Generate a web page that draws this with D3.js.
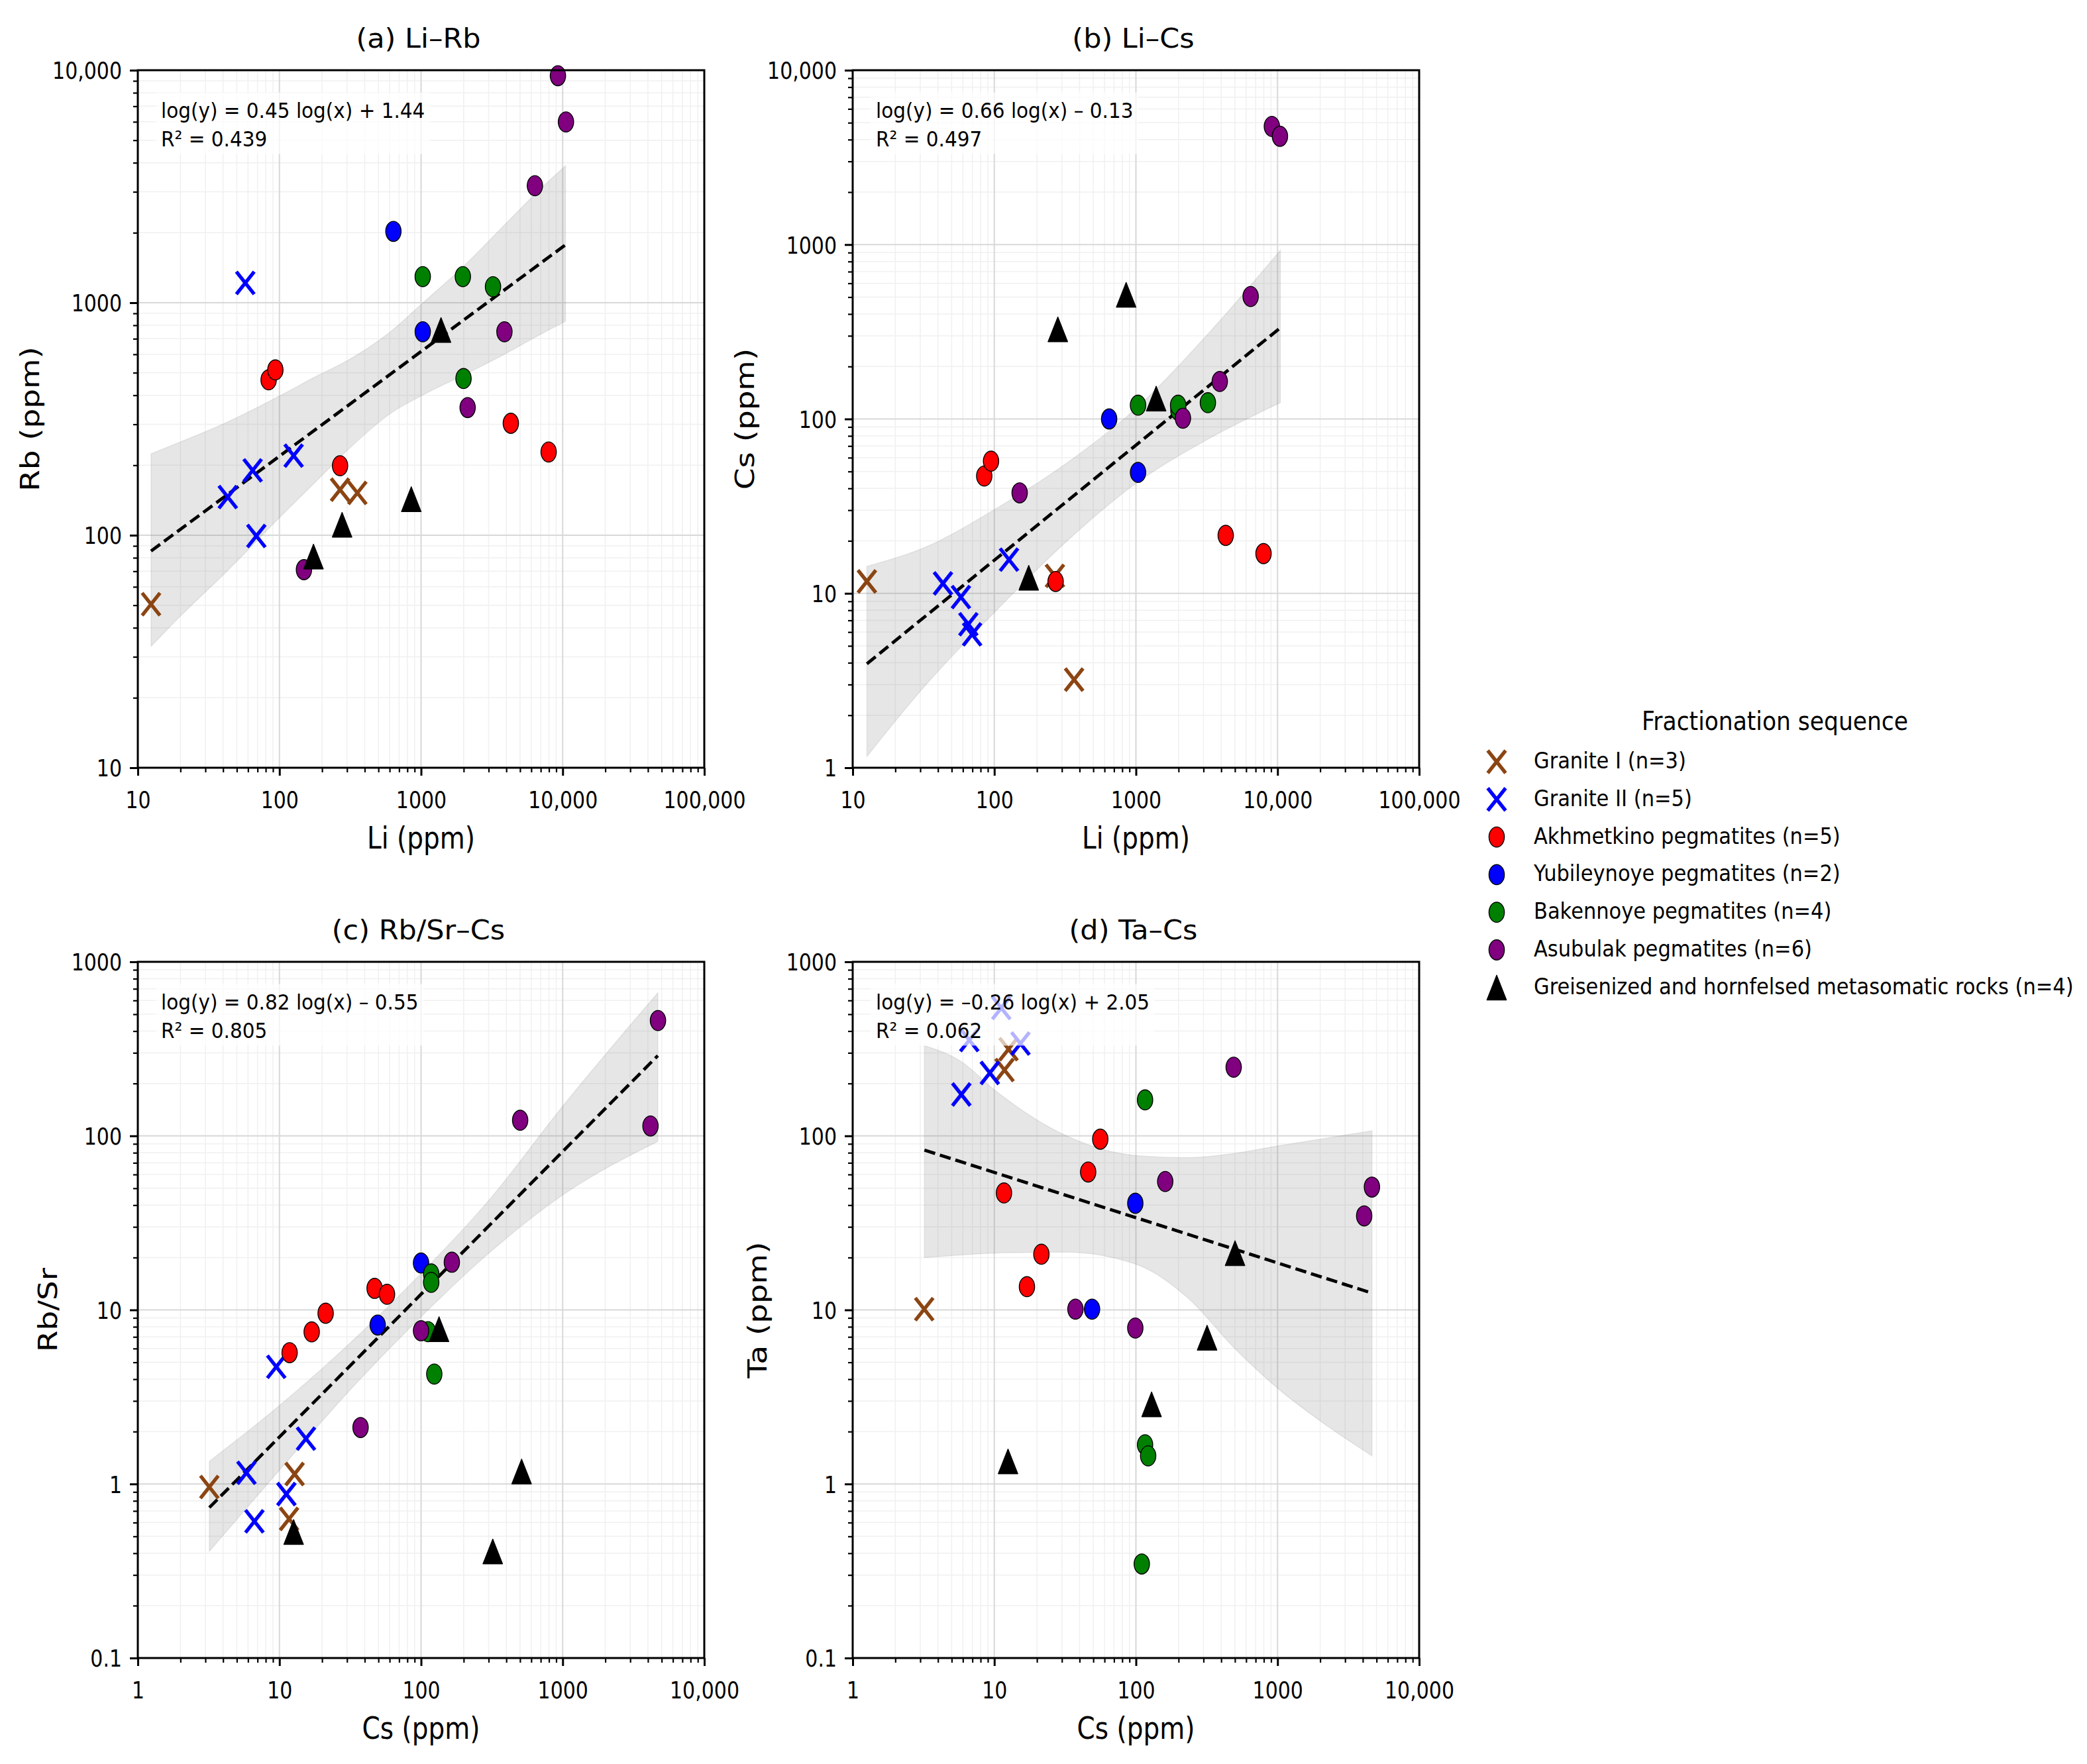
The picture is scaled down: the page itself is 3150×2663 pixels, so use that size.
<!DOCTYPE html>
<html><head><meta charset="utf-8">
<script src="https://cdn.jsdelivr.net/npm/d3@7"></script>
<style>
body{margin:0;background:#fff}
svg{display:block}
text{font-family:"DejaVu Sans",sans-serif;fill:#000}
</style>
</head><body>
<svg id="chart" width="3150" height="2663"></svg>
<script>
// ---------- groups ----------
const groupNames = ["Granite I (n=3)","Granite II (n=5)","Akhmetkino pegmatites (n=5)","Yubileynoye pegmatites (n=2)","Bakennoye pegmatites (n=4)","Asubulak pegmatites (n=6)","Greisenized and hornfelsed metasomatic rocks (n=4)"];
const groupColors = ["#8B4513","#0000FF","#FF0000","#0000FF","#008000","#800080","#000000"];
const groupShapes = ["x","x","o","o","o","o","^"];

// ---------- panel (a) Li vs Rb ----------
const A_granite1 = [[12.4,50.5],[268,157],[355,152]];
const A_granite2 = [[57.4,1217],[43.2,146],[64.7,190],[68.7,99.3],[126,220]];
const A_akhmet   = [[83.9,466],[93.6,514],[268,199],[4305,303],[7962,228]];
const A_yubil    = [[638,2027],[1028,750]];
const A_baken    = [[1028,1295],[1973,1295],[3222,1172],[1995,472]];
const A_asub     = [[9260,9470],[10550,5990],[6368,3186],[3880,750],[2133,354],[149,71.1]];
const A_greisen  = [[1384,764],[853,143],[277,111],[174,81]];
const A_bandX  = [12.4,20,41.1,100,186,302,622,1000,2089,3802,6982,10470];
const A_bandHi = [224,252,303,397,486,564,759,982,1472,2133,3090,3882];
const A_bandLo = [33.3,44.9,68.5,119,173,232,337,397,495,596,731,832];

// ---------- panel (b) Li vs Cs ----------
const B_granite1 = [[12.6,11.7],[268,12.6],[366,3.2]];
const B_granite2 = [[43.4,11.4],[58.1,9.52],[65.6,6.65],[69.7,5.82],[127,15.6]];
const B_akhmet   = [[84.9,47.1],[94.8,57.3],[271,11.7],[4305,21.5],[7962,16.9]];
const B_yubil    = [[647,100],[1035,49.4]];
const B_baken    = [[1035,120],[1995,112],[1986,120],[3222,124]];
const B_asub     = [[9120,4760],[10400,4180],[6457,504],[3908,164],[2148,101],[151,37.7]];
const B_greisen  = [[853,516],[281,327],[1390,131],[175,12.3]];
const B_bandX  = [12.6,31.6,100,316,1000,3162,10470];
const B_bandHi = [14.3,18.2,30.2,55,115,302,929];
const B_bandLo = [1.16,2.88,7.76,19.5,42.7,75.9,124];

// ---------- panel (c) Cs vs Rb/Sr ----------
const C_granite1 = [[3.2,0.96],[12.8,1.14],[11.7,0.63]];
const C_granite2 = [[5.85,1.16],[6.66,0.61],[9.5,4.71],[11.2,0.875],[15.4,1.82]];
const C_akhmet   = [[11.8,5.68],[16.9,7.48],[21.2,9.57],[47,13.3],[57.5,12.3]];
const C_yubil    = [[100,18.6],[49.4,8.19]];
const C_baken    = [[118,16.1],[118,14.4],[112,7.5],[124,4.28]];
const C_asub     = [[501,123],[4170,114],[4710,460],[165,18.8],[100,7.59],[37.4,2.11]];
const C_greisen  = [[134,7.76],[12.6,0.53],[321,0.41],[513,1.18]];
const C_bandX  = [3.2,10,31.6,100,316,1000,4700];
const C_bandHi = [1.35,2.82,6.46,16.2,44.7,148,664];
const C_bandLo = [0.41,1.2,3.47,9.12,21.9,45.7,92.9];

// ---------- panel (d) Cs vs Ta ----------
const D_granite1 = [[3.2,10.1],[11.8,239],[12.6,315]];
const D_granite2 = [[5.85,173],[9.3,230],[6.66,355],[11.2,543],[15.3,339]];
const D_akhmet   = [[11.7,47],[17,13.6],[21.5,20.9],[46,62],[56,95.7]];
const D_yubil    = [[99,41],[49,10.1]];
const D_baken    = [[116,161],[116,1.68],[122,1.45],[110,0.347]];
const D_asub     = [[490,248],[161,54.7],[4640,50.8],[4090,34.7],[37.4,10.1],[99,7.87]];
const D_greisen  = [[501,21.2],[318,6.93],[129,2.87],[12.5,1.35]];
const D_bandX  = [3.21,5.85,10,31.6,100,233,501,1000,2328,4645];
const D_bandHi = [330,267,184,101,77.1,75,79.4,87.5,97.7,107];
const D_bandLo = [20,20.7,21.2,21.5,18.3,11.7,5.98,3.55,2.11,1.45];

// ---------- fits ----------
const fitSlope = [0.45,0.66,0.82,-0.26];
const fitIntercept = [1.44,-0.13,-0.55,2.05];
const fitR2 = ["0.439","0.497","0.805","0.062"];

// ---------- titles / labels / ticks ----------
const panelTitles = ["(a) Li–Rb","(b) Li–Cs","(c) Rb/Sr–Cs","(d) Ta–Cs"];
const xLabels = ["Li (ppm)","Li (ppm)","Cs (ppm)","Cs (ppm)"];
const yLabels = ["Rb (ppm)","Cs (ppm)","Rb/Sr","Ta (ppm)"];
const xDomains = [[10,100000],[10,100000],[1,10000],[1,10000]];
const yDomains = [[10,10000],[1,10000],[0.1,1000],[0.1,1000]];
const legendTitle = "Fractionation sequence";

// ---------- layout ----------
const KY = 1.2;   // vertical stretch of the reference glyphs
const layout = [
  {left:208, right:1063, top:106, bottom:1159, ylx:59},
  {left:1287, right:2142, top:106, bottom:1159, ylx:1138},
  {left:208, right:1063, top:1452, bottom:2503, ylx:86},
  {left:1287, right:2142, top:1452, bottom:2503, ylx:1157}
];
const panelData = [
  [A_granite1,A_granite2,A_akhmet,A_yubil,A_baken,A_asub,A_greisen],
  [B_granite1,B_granite2,B_akhmet,B_yubil,B_baken,B_asub,B_greisen],
  [C_granite1,C_granite2,C_akhmet,C_yubil,C_baken,C_asub,C_greisen],
  [D_granite1,D_granite2,D_akhmet,D_yubil,D_baken,D_asub,D_greisen]
];
const panelBands = [
  [A_bandX,A_bandHi,A_bandLo],[B_bandX,B_bandHi,B_bandLo],
  [C_bandX,C_bandHi,C_bandLo],[D_bandX,D_bandHi,D_bandLo]
];

const svg = d3.select("#chart");

function txt(g, x, y, s, size, o = {}) {
  const sx = o.sx || 1, sy = o.sy || KY;
  return g.append("text")
    .attr("transform", `translate(${x},${y}) scale(${sx},${sy})` + (o.rot ? ` rotate(${o.rot})` : ""))
    .attr("font-size", size)
    .attr("text-anchor", o.anchor || "start")
    .text(s);
}

function fmtTick(v) {
  return v >= 10000 ? d3.format(",")(v) : String(v);
}
function majors(dom) {
  const out = [];
  for (let e = Math.round(Math.log10(dom[0])); e <= Math.round(Math.log10(dom[1])); e++) out.push(+Math.pow(10, e).toPrecision(6));
  return out;
}
function minors(dom) {
  const out = [];
  for (let e = Math.round(Math.log10(dom[0])); e < Math.round(Math.log10(dom[1])); e++)
    for (let k = 2; k <= 9; k++) out.push(+(k * Math.pow(10, e)).toPrecision(6));
  return out;
}

function drawMarker(g, pts, gi, x, y) {
  const shape = groupShapes[gi], color = groupColors[gi];
  const sel = g.selectAll(null).data(pts).enter();
  if (shape === "o") {
    sel.append("ellipse")
      .attr("cx", d => x(d[0])).attr("cy", d => y(d[1]))
      .attr("rx", 11.6).attr("ry", 15.2)
      .attr("fill", color).attr("stroke", "#000").attr("stroke-width", 1.4);
  } else if (shape === "x") {
    sel.append("path")
      .attr("transform", d => `translate(${x(d[0])},${y(d[1])})`)
      .attr("d", "M-13.5,-17L13.5,17M-13.5,17L13.5,-17")
      .attr("fill", "none").attr("stroke", color).attr("stroke-width", 5.4);
  } else {
    sel.append("path")
      .attr("transform", d => `translate(${x(d[0])},${y(d[1])})`)
      .attr("d", "M0,-19L15,19L-15,19Z")
      .attr("fill", color).attr("stroke", "#000").attr("stroke-width", 1);
  }
}

panelTitles.forEach((title, p) => {
  const L = layout[p];
  const x = d3.scaleLog().domain(xDomains[p]).range([L.left, L.right]);
  const y = d3.scaleLog().domain(yDomains[p]).range([L.bottom, L.top]);
  const g = svg.append("g");
  const cx = (L.left + L.right) / 2, cy = (L.top + L.bottom) / 2;

  // minor grid
  const gg = g.append("g");
  gg.selectAll(null).data(minors(xDomains[p])).enter().append("line")
    .attr("x1", d => x(d)).attr("x2", d => x(d)).attr("y1", L.top).attr("y2", L.bottom)
    .attr("stroke", "#f0f0f0").attr("stroke-width", 1.5);
  gg.selectAll(null).data(minors(yDomains[p])).enter().append("line")
    .attr("y1", d => y(d)).attr("y2", d => y(d)).attr("x1", L.left).attr("x2", L.right)
    .attr("stroke", "#f0f0f0").attr("stroke-width", 1.5);
  // major grid
  gg.selectAll(null).data(majors(xDomains[p])).enter().append("line")
    .attr("x1", d => x(d)).attr("x2", d => x(d)).attr("y1", L.top).attr("y2", L.bottom)
    .attr("stroke", "#d8d8d8").attr("stroke-width", 2);
  gg.selectAll(null).data(majors(yDomains[p])).enter().append("line")
    .attr("y1", d => y(d)).attr("y2", d => y(d)).attr("x1", L.left).attr("x2", L.right)
    .attr("stroke", "#d8d8d8").attr("stroke-width", 2);

  // confidence band
  const [bx, bhi, blo] = panelBands[p];
  const bandPts = bx.map((v, i) => [v, bhi[i], blo[i]]);
  g.append("path").datum(bandPts)
    .attr("d", d3.area().x(d => x(d[0])).y0(d => y(d[2])).y1(d => y(d[1])).curve(d3.curveMonotoneX))
    .attr("fill", "#808080").attr("fill-opacity", 0.2)
    .attr("stroke", "#808080").attr("stroke-opacity", 0.15).attr("stroke-width", 1.5);

  // regression line
  const m = fitSlope[p], b = fitIntercept[p];
  const lineX = [bx[0], bx[bx.length - 1]];
  g.append("path").datum(lineX)
    .attr("d", d3.line().x(d => x(d)).y(d => y(Math.pow(10, m * Math.log10(d) + b))))
    .attr("fill", "none").attr("stroke", "#000").attr("stroke-width", 4.8)
    .attr("stroke-dasharray", "17,7.5");

  // points
  panelData[p].forEach((pts, gi) => drawMarker(g, pts, gi, x, y));

  // equation box
  const ex = L.left + 35, e1 = L.top + 71.6, e2 = L.top + 114.5;
  const box = g.append("rect").attr("fill", "#fff").attr("fill-opacity", 0.7);
  const eqStr = `log(y) = ${m < 0 ? "–" : ""}${Math.abs(m).toFixed(2)} log(x) ${b < 0 ? "–" : "+"} ${Math.abs(b).toFixed(2)}`;
  const t1 = txt(g, ex, e1, eqStr, 29.5, {sy: 1.08});
  txt(g, ex, e2, "R² = " + fitR2[p], 29.5, {sy: 1.08});
  const w = t1.node().getComputedTextLength();
  box.attr("x", ex - 8).attr("y", e1 - 38).attr("width", w + 16).attr("height", e2 - e1 + 50);

  // ticks: minor
  const axX = g.append("g").attr("transform", `translate(0,${L.bottom})`)
    .call(d3.axisBottom(x).tickValues(minors(xDomains[p])).tickSize(7).tickFormat(""));
  const axY = g.append("g").attr("transform", `translate(${L.left},0)`)
    .call(d3.axisLeft(y).tickValues(minors(yDomains[p])).tickSize(7).tickFormat(""));
  [axX, axY].forEach(a => { a.select(".domain").remove(); a.selectAll("line").attr("stroke", "#000").attr("stroke-width", 2.2); });

  // ticks: major
  const mX = g.append("g").attr("transform", `translate(0,${L.bottom})`)
    .call(d3.axisBottom(x).tickValues(majors(xDomains[p])).tickSize(12).tickFormat(fmtTick));
  const mY = g.append("g").attr("transform", `translate(${L.left},0)`)
    .call(d3.axisLeft(y).tickValues(majors(yDomains[p])).tickSize(12).tickFormat(fmtTick));
  [mX, mY].forEach(a => {
    a.select(".domain").remove();
    a.attr("font-family", null).attr("font-size", null);
    a.selectAll("line").attr("stroke", "#000").attr("stroke-width", 3);
    a.selectAll("text").attr("font-size", 30).attr("fill", "#000");
  });
  mX.selectAll("text").attr("y", 61 / KY).attr("dy", null).attr("transform", `scale(1,${KY})`);
  mY.selectAll("text").attr("x", -24).attr("dy", "0.36em").attr("transform", `scale(1,${KY})`);

  // frame
  g.append("rect").attr("x", L.left).attr("y", L.top)
    .attr("width", L.right - L.left).attr("height", L.bottom - L.top)
    .attr("fill", "none").attr("stroke", "#000").attr("stroke-width", 3);

  // title and labels
  txt(g, cx - 4, L.top - 34.5, title, 43, {anchor: "middle", sy: 0.95});
  txt(g, cx, L.bottom + 122, xLabels[p], 39, {anchor: "middle"});
  txt(g, L.ylx, cy, yLabels[p], 39, {anchor: "middle", rot: -90});
});

// ---------- legend ----------
const lg = svg.append("g");
txt(lg, 2679, 1102, legendTitle, 34.5, {anchor: "middle", sy: 1.12});
groupNames.forEach((name, i) => {
  const base = 1160 + i * 56.8;
  const gx = d3.scaleLinear().domain([0, 1]).range([2259, 2260]);
  const gy = d3.scaleLinear().domain([0, 1]).range([base - 10, base - 9]);
  drawMarker(lg, [[0, 0]], i, gx, gy);
  txt(lg, 2315, base, name, 30.5, {sy: 1.12});
});
</script>
</body></html>
